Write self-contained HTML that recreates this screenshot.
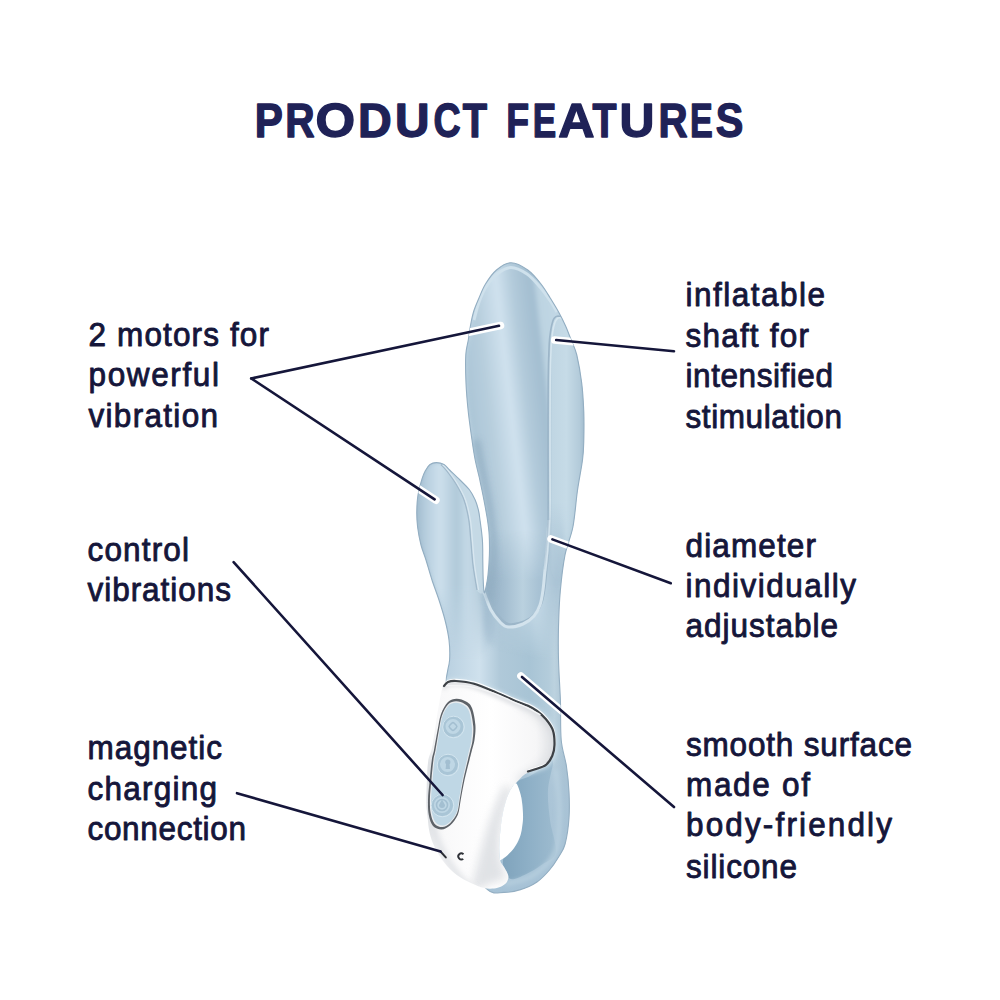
<!DOCTYPE html>
<html><head><meta charset="utf-8"><style>
html,body{margin:0;padding:0;background:#fff;width:1000px;height:1000px;overflow:hidden}
svg{display:block}
.t{font-family:"Liberation Sans",sans-serif;font-size:31.5px;fill:#15163a;stroke:#15163a;stroke-width:0.85px;stroke-linejoin:round}
.h{font-family:"Liberation Sans",sans-serif;font-size:48px;font-weight:bold;fill:#1f2257;stroke:#1f2257;stroke-width:1.4px;stroke-linejoin:round}
</style></head><body>
<svg width="1000" height="1000" viewBox="0 0 1000 1000">
<defs>
 <linearGradient id="gBase" x1="425" y1="0" x2="572" y2="0" gradientUnits="userSpaceOnUse">
  <stop offset="0" stop-color="#9fbacc"/>
  <stop offset="0.1" stop-color="#b5cdde"/>
  <stop offset="0.37" stop-color="#cfe1ed"/>
  <stop offset="0.51" stop-color="#b0c9d9"/>
  <stop offset="0.71" stop-color="#a8c4d5"/>
  <stop offset="0.84" stop-color="#b3ccdb"/>
  <stop offset="0.88" stop-color="#bcd2df"/>
  <stop offset="1" stop-color="#9fbacc"/>
 </linearGradient>
 <linearGradient id="gShaft" x1="465" y1="420" x2="585" y2="406" gradientUnits="userSpaceOnUse">
  <stop offset="0" stop-color="#98b4c8"/>
  <stop offset="0.058" stop-color="#acc6d7"/>
  <stop offset="0.21" stop-color="#b7cedd"/>
  <stop offset="0.39" stop-color="#d0e2ee"/>
  <stop offset="0.52" stop-color="#b3cbdb"/>
  <stop offset="0.625" stop-color="#a7c1d3"/>
  <stop offset="0.69" stop-color="#a3bed1"/>
  <stop offset="0.715" stop-color="#bcd3e1"/>
  <stop offset="0.875" stop-color="#c2d8e5"/>
  <stop offset="1" stop-color="#a5bfd1"/>
 </linearGradient>
 <linearGradient id="gArm" x1="416" y1="0" x2="484" y2="0" gradientUnits="userSpaceOnUse">
  <stop offset="0" stop-color="#9fbacc"/>
  <stop offset="0.12" stop-color="#b3cbdc"/>
  <stop offset="0.35" stop-color="#cde0ec"/>
  <stop offset="0.6" stop-color="#b0c9d9"/>
  <stop offset="0.75" stop-color="#c4d9e6"/>
  <stop offset="0.9" stop-color="#bad0de"/>
  <stop offset="1" stop-color="#a3bdd0"/>
 </linearGradient>
 <linearGradient id="gLobe" x1="548" y1="0" x2="585" y2="0" gradientUnits="userSpaceOnUse">
  <stop offset="0" stop-color="#a6bfd1"/>
  <stop offset="0.12" stop-color="#c0d6e3"/>
  <stop offset="0.5" stop-color="#c6dbe7"/>
  <stop offset="0.85" stop-color="#b3cbda"/>
  <stop offset="1" stop-color="#9fb9cc"/>
 </linearGradient>
 <linearGradient id="gFadeV" x1="0" y1="585" x2="0" y2="660" gradientUnits="userSpaceOnUse">
  <stop offset="0" stop-color="#fff"/><stop offset="1" stop-color="#000"/>
 </linearGradient>
 <linearGradient id="gLobeFade" x1="0" y1="500" x2="0" y2="585" gradientUnits="userSpaceOnUse">
  <stop offset="0" stop-color="#fff"/><stop offset="1" stop-color="#000"/>
 </linearGradient>
 <mask id="mLobe"><rect x="0" y="0" width="1000" height="1000" fill="url(#gLobeFade)"/></mask>
 <mask id="mFade"><rect x="0" y="0" width="1000" height="1000" fill="url(#gFadeV)"/></mask>
 <linearGradient id="gUin" x1="485" y1="0" x2="548" y2="0" gradientUnits="userSpaceOnUse">
  <stop offset="0" stop-color="#93afc3"/>
  <stop offset="0.3" stop-color="#a3bdd0"/>
  <stop offset="0.6" stop-color="#bad1df"/>
  <stop offset="0.85" stop-color="#a8c2d4"/>
  <stop offset="1" stop-color="#a3bed1"/>
 </linearGradient>
 <linearGradient id="gUfade" x1="0" y1="530" x2="0" y2="580" gradientUnits="userSpaceOnUse">
  <stop offset="0" stop-color="#000"/><stop offset="1" stop-color="#fff"/>
 </linearGradient>
 <mask id="mU"><rect x="0" y="0" width="1000" height="1000" fill="url(#gUfade)"/></mask>
 <linearGradient id="gLoopIn" x1="500" y1="0" x2="555" y2="0" gradientUnits="userSpaceOnUse">
  <stop offset="0" stop-color="#7ea2bb"/>
  <stop offset="0.5" stop-color="#8dafc6"/>
  <stop offset="1" stop-color="#9dbbcf"/>
 </linearGradient>
 <linearGradient id="gLoopOut" x1="0" y1="740" x2="0" y2="900" gradientUnits="userSpaceOnUse">
  <stop offset="0" stop-color="#a9c2d4" stop-opacity="0"/>
  <stop offset="0.3" stop-color="#a9c3d6" stop-opacity="0.8"/>
  <stop offset="1" stop-color="#a6c2d6"/>
 </linearGradient>
 <linearGradient id="gHandle" x1="428" y1="0" x2="555" y2="0" gradientUnits="userSpaceOnUse">
  <stop offset="0" stop-color="#e4e6e9"/>
  <stop offset="0.08" stop-color="#f8f8f9"/>
  <stop offset="0.5" stop-color="#ffffff"/>
  <stop offset="0.85" stop-color="#f6f6f7"/>
  <stop offset="1" stop-color="#e2e4e7"/>
 </linearGradient>
 <linearGradient id="gHandleLow" x1="0" y1="800" x2="0" y2="890" gradientUnits="userSpaceOnUse">
  <stop offset="0" stop-color="#e6e8ea" stop-opacity="0"/>
  <stop offset="1" stop-color="#dfe1e4" stop-opacity="0.9"/>
 </linearGradient>
 <filter id="blur4" x="-50%" y="-50%" width="200%" height="200%"><feGaussianBlur stdDeviation="4"/></filter>
 <filter id="blur3" x="-50%" y="-50%" width="200%" height="200%"><feGaussianBlur stdDeviation="3"/></filter>
 <filter id="blur1" x="-50%" y="-50%" width="200%" height="200%"><feGaussianBlur stdDeviation="0.6"/></filter>
 <filter id="blur2" x="-50%" y="-50%" width="200%" height="200%"><feGaussianBlur stdDeviation="2"/></filter>
 <clipPath id="cBlue"><path d="M511.0,262.7 C516.2,262.7 522.8,266.4 527.8,270.0 C532.8,273.6 537.3,279.3 541.0,284.0 C544.7,288.7 547.3,293.3 550.2,298.0 C553.1,302.7 556.0,307.3 558.6,312.0 C561.2,316.7 563.5,321.3 565.6,326.0 C567.7,330.7 569.3,335.2 571.2,340.0 C573.1,344.8 575.0,347.8 576.8,355.0 C578.5,362.2 580.5,373.5 581.7,383.0 C582.9,392.5 583.4,402.5 583.8,412.0 C584.1,421.5 584.0,432.0 583.8,440.0 C583.6,448.0 583.6,451.5 582.5,460.0 C581.4,468.5 579.0,479.8 577.4,491.0 C575.8,502.2 575.0,516.3 572.9,527.0 C570.8,537.7 567.1,544.3 565.0,555.0 C562.9,565.7 561.4,579.0 560.3,591.0 C559.2,603.0 558.8,615.5 558.5,627.0 C558.2,638.5 558.2,647.8 558.5,660.0 C558.8,672.2 559.9,686.7 560.4,700.0 C560.9,713.3 560.2,729.0 561.2,740.0 C562.2,751.0 565.1,757.3 566.4,766.0 C567.7,774.7 568.6,783.3 569.0,792.0 C569.4,800.7 569.6,809.3 569.0,818.0 C568.4,826.7 566.8,837.5 565.1,844.0 C563.4,850.5 561.2,852.7 558.6,857.0 C556.0,861.3 553.1,865.8 549.5,870.0 C545.9,874.2 541.8,878.7 537.0,882.0 C532.2,885.3 526.0,887.9 520.5,889.6 C515.0,891.3 509.5,892.4 504.0,892.4 C498.5,892.4 493.2,895.0 487.5,889.6 C481.8,884.2 475.4,881.6 470.0,860.0 C464.6,838.4 459.0,788.3 455.0,760.0 C451.0,731.7 446.9,706.7 446.0,690.0 C445.1,673.3 449.1,668.3 449.6,660.0 C450.1,651.7 449.8,646.7 449.0,640.0 C448.2,633.3 446.7,626.7 445.0,620.0 C443.3,613.3 441.2,606.7 439.0,600.0 C436.8,593.3 434.2,586.7 432.0,580.0 C429.8,573.3 427.8,565.8 426.0,560.0 C424.2,554.2 422.4,550.5 421.0,545.0 C419.6,539.5 418.3,532.7 417.6,527.0 C416.9,521.3 416.7,516.3 416.8,511.0 C416.9,505.7 417.1,500.3 418.0,495.0 C418.9,489.7 420.8,483.0 422.0,479.0 C423.2,475.0 423.9,473.4 425.2,471.0 C426.5,468.6 428.1,465.9 430.0,464.5 C431.9,463.1 434.1,462.6 436.4,462.6 C438.7,462.6 441.8,463.3 444.0,464.5 C446.2,465.7 446.9,467.4 449.6,470.0 C452.3,472.6 456.7,476.7 460.0,480.0 C463.3,483.3 467.1,486.7 469.6,490.0 C472.1,493.3 473.7,496.7 475.2,500.0 C476.7,503.3 477.6,506.7 478.4,510.0 C479.2,513.3 479.3,515.0 480.0,520.0 C480.7,525.0 481.9,533.3 482.4,540.0 C482.9,546.7 482.7,553.3 482.8,560.0 C482.9,566.7 483.0,574.6 483.2,580.0 C483.4,585.4 483.8,590.9 484.2,592.4 C484.6,593.9 485.0,591.9 485.6,589.0 C486.2,586.1 487.4,580.7 488.0,575.0 C488.6,569.3 489.2,561.7 489.4,555.0 C489.6,548.3 489.5,540.8 489.2,535.0 C488.9,529.2 488.3,525.3 487.5,520.0 C486.7,514.7 485.5,508.3 484.5,503.0 C483.5,497.7 482.4,492.3 481.5,488.0 C480.6,483.7 480.2,481.7 479.2,477.0 C478.1,472.3 476.4,466.2 475.2,460.0 C474.0,453.8 473.1,448.0 472.0,440.0 C470.9,432.0 469.3,421.5 468.3,412.0 C467.3,402.5 466.4,392.5 466.0,383.0 C465.6,373.5 465.4,362.2 465.8,355.0 C466.2,347.8 467.5,344.8 468.3,340.0 C469.1,335.2 469.5,330.7 470.4,326.0 C471.3,321.3 472.1,316.7 473.5,312.0 C474.9,307.3 477.0,302.7 479.0,298.0 C481.0,293.3 482.6,288.7 485.5,284.0 C488.4,279.3 492.2,273.6 496.5,270.0 C500.8,266.4 505.8,262.7 511.0,262.7Z"/></clipPath>
 <clipPath id="cHandle"><path d="M445.2,682.0 C447.9,678.8 451.2,680.7 456.0,681.0 C460.8,681.3 467.4,681.9 474.0,683.8 C480.6,685.7 489.0,689.5 495.6,692.3 C502.2,695.0 508.2,698.0 513.6,700.3 C519.0,702.5 524.1,704.0 528.0,705.8 C531.9,707.6 534.0,708.8 537.0,711.0 C540.0,713.2 543.3,716.0 546.0,719.3 C548.7,722.6 551.6,726.3 553.0,730.6 C554.4,734.9 554.6,740.8 554.5,745.0 C554.4,749.2 553.7,752.5 552.3,755.8 C550.9,759.1 548.9,762.5 546.0,764.8 C543.1,767.0 538.8,767.7 535.2,769.3 C531.6,770.9 527.6,772.2 524.4,774.5 C521.2,776.8 517.8,781.2 515.8,783.2 C513.8,785.2 514.0,784.1 512.5,786.5 C511.0,788.9 508.6,792.9 507.0,797.5 C505.4,802.1 503.7,808.5 502.6,814.0 C501.5,819.5 500.9,825.0 500.4,830.5 C499.8,836.0 499.4,842.1 499.3,847.0 C499.2,851.9 499.1,856.7 499.9,860.0 C500.7,863.3 502.8,864.8 504.0,867.0 C505.2,869.2 506.6,871.2 507.3,873.0 C508.0,874.8 508.6,875.8 508.4,877.5 C508.2,879.2 507.5,881.5 506.2,883.0 C504.9,884.5 502.7,885.9 500.7,886.8 C498.7,887.7 496.8,888.3 494.0,888.5 C491.2,888.7 487.8,888.9 484.0,888.0 C480.2,887.1 475.5,885.2 471.0,883.0 C466.5,880.8 461.3,878.4 456.8,875.0 C452.3,871.6 447.8,866.9 444.2,862.4 C440.6,857.9 437.6,852.8 435.2,848.0 C432.8,843.2 431.1,839.0 429.8,833.6 C428.5,828.2 428.1,821.2 427.5,815.6 C426.9,810.0 426.4,808.8 426.5,800.0 C426.6,791.2 427.0,772.2 428.0,763.0 C429.0,753.8 430.6,755.5 432.6,745.0 C434.6,734.5 437.7,710.5 439.8,700.0 C441.9,689.5 442.5,685.2 445.2,682.0Z"/></clipPath>
</defs>
<rect width="1000" height="1000" fill="#fff"/>
<text class="h" transform="translate(254.87,136.8) scale(0.878,1.0)">P</text><text class="h" transform="translate(285.16,136.8) scale(0.847,1.0)">R</text><text class="h" transform="translate(315.48,136.8) scale(1.061,1.0)">O</text><text class="h" transform="translate(357.88,136.8) scale(0.973,1.0)">D</text><text class="h" transform="translate(394.91,136.8) scale(0.997,1.0)">U</text><text class="h" transform="translate(433.43,136.8) scale(0.784,1.0)">C</text><text class="h" transform="translate(462.67,136.8) scale(0.829,1.0)">T</text><text class="h" transform="translate(506.16,136.8) scale(0.780,1.0)">F</text><text class="h" transform="translate(532.80,136.8) scale(0.733,1.0)">E</text><text class="h" transform="translate(558.15,136.8) scale(1.047,1.0)">A</text><text class="h" transform="translate(592.38,136.8) scale(0.818,1.0)">T</text><text class="h" transform="translate(619.58,136.8) scale(1.007,1.0)">U</text><text class="h" transform="translate(658.38,136.8) scale(0.840,1.0)">R</text><text class="h" transform="translate(690.07,136.8) scale(0.711,1.0)">E</text><text class="h" transform="translate(715.78,136.8) scale(0.861,1.0)">S</text>
<g class="t">
<text transform="translate(88.5,346) scale(1,1.05)" textLength="180.5" lengthAdjust="spacing">2 motors for</text>
<text transform="translate(88.5,386) scale(1,1.05)" textLength="130.5" lengthAdjust="spacing">powerful</text>
<text transform="translate(88.5,427) scale(1,1.05)" textLength="129.5" lengthAdjust="spacing">vibration</text>
<text transform="translate(87.5,561) scale(1,1.05)" textLength="101.5" lengthAdjust="spacing">control</text>
<text transform="translate(87.5,601) scale(1,1.05)" textLength="143.5" lengthAdjust="spacing">vibrations</text>
<text transform="translate(87.5,759) scale(1,1.05)" textLength="134.5" lengthAdjust="spacing">magnetic</text>
<text transform="translate(87.5,800) scale(1,1.05)" textLength="129.5" lengthAdjust="spacing">charging</text>
<text transform="translate(87.5,840) scale(1,1.05)" textLength="158.5" lengthAdjust="spacing">connection</text>
<text transform="translate(685.5,306) scale(1,1.05)" textLength="139.5" lengthAdjust="spacing">inflatable</text>
<text transform="translate(685.5,347) scale(1,1.05)" textLength="123.5" lengthAdjust="spacing">shaft for</text>
<text transform="translate(685.5,387) scale(1,1.05)" textLength="147.5" lengthAdjust="spacing">intensified</text>
<text transform="translate(685.5,428) scale(1,1.05)" textLength="156.5" lengthAdjust="spacing">stimulation</text>
<text transform="translate(685.5,557) scale(1,1.05)" textLength="130.5" lengthAdjust="spacing">diameter</text>
<text transform="translate(685.5,597) scale(1,1.05)" textLength="170.5" lengthAdjust="spacing">individually</text>
<text transform="translate(685.5,637) scale(1,1.05)" textLength="152.5" lengthAdjust="spacing">adjustable</text>
<text transform="translate(686.0,756) scale(1,1.05)" textLength="226.0" lengthAdjust="spacing">smooth surface</text>
<text transform="translate(686.0,796) scale(1,1.05)" textLength="124.0" lengthAdjust="spacing">made of</text>
<text transform="translate(686.0,836) scale(1,1.05)" textLength="206.0" lengthAdjust="spacing">body-friendly</text>
<text transform="translate(686.0,877.5) scale(1,1.05)" textLength="111.0" lengthAdjust="spacing">silicone</text>

</g>
<!-- product -->
<path d="M511.0,262.7 C516.2,262.7 522.8,266.4 527.8,270.0 C532.8,273.6 537.3,279.3 541.0,284.0 C544.7,288.7 547.3,293.3 550.2,298.0 C553.1,302.7 556.0,307.3 558.6,312.0 C561.2,316.7 563.5,321.3 565.6,326.0 C567.7,330.7 569.3,335.2 571.2,340.0 C573.1,344.8 575.0,347.8 576.8,355.0 C578.5,362.2 580.5,373.5 581.7,383.0 C582.9,392.5 583.4,402.5 583.8,412.0 C584.1,421.5 584.0,432.0 583.8,440.0 C583.6,448.0 583.6,451.5 582.5,460.0 C581.4,468.5 579.0,479.8 577.4,491.0 C575.8,502.2 575.0,516.3 572.9,527.0 C570.8,537.7 567.1,544.3 565.0,555.0 C562.9,565.7 561.4,579.0 560.3,591.0 C559.2,603.0 558.8,615.5 558.5,627.0 C558.2,638.5 558.2,647.8 558.5,660.0 C558.8,672.2 559.9,686.7 560.4,700.0 C560.9,713.3 560.2,729.0 561.2,740.0 C562.2,751.0 565.1,757.3 566.4,766.0 C567.7,774.7 568.6,783.3 569.0,792.0 C569.4,800.7 569.6,809.3 569.0,818.0 C568.4,826.7 566.8,837.5 565.1,844.0 C563.4,850.5 561.2,852.7 558.6,857.0 C556.0,861.3 553.1,865.8 549.5,870.0 C545.9,874.2 541.8,878.7 537.0,882.0 C532.2,885.3 526.0,887.9 520.5,889.6 C515.0,891.3 509.5,892.4 504.0,892.4 C498.5,892.4 493.2,895.0 487.5,889.6 C481.8,884.2 475.4,881.6 470.0,860.0 C464.6,838.4 459.0,788.3 455.0,760.0 C451.0,731.7 446.9,706.7 446.0,690.0 C445.1,673.3 449.1,668.3 449.6,660.0 C450.1,651.7 449.8,646.7 449.0,640.0 C448.2,633.3 446.7,626.7 445.0,620.0 C443.3,613.3 441.2,606.7 439.0,600.0 C436.8,593.3 434.2,586.7 432.0,580.0 C429.8,573.3 427.8,565.8 426.0,560.0 C424.2,554.2 422.4,550.5 421.0,545.0 C419.6,539.5 418.3,532.7 417.6,527.0 C416.9,521.3 416.7,516.3 416.8,511.0 C416.9,505.7 417.1,500.3 418.0,495.0 C418.9,489.7 420.8,483.0 422.0,479.0 C423.2,475.0 423.9,473.4 425.2,471.0 C426.5,468.6 428.1,465.9 430.0,464.5 C431.9,463.1 434.1,462.6 436.4,462.6 C438.7,462.6 441.8,463.3 444.0,464.5 C446.2,465.7 446.9,467.4 449.6,470.0 C452.3,472.6 456.7,476.7 460.0,480.0 C463.3,483.3 467.1,486.7 469.6,490.0 C472.1,493.3 473.7,496.7 475.2,500.0 C476.7,503.3 477.6,506.7 478.4,510.0 C479.2,513.3 479.3,515.0 480.0,520.0 C480.7,525.0 481.9,533.3 482.4,540.0 C482.9,546.7 482.7,553.3 482.8,560.0 C482.9,566.7 483.0,574.6 483.2,580.0 C483.4,585.4 483.8,590.9 484.2,592.4 C484.6,593.9 485.0,591.9 485.6,589.0 C486.2,586.1 487.4,580.7 488.0,575.0 C488.6,569.3 489.2,561.7 489.4,555.0 C489.6,548.3 489.5,540.8 489.2,535.0 C488.9,529.2 488.3,525.3 487.5,520.0 C486.7,514.7 485.5,508.3 484.5,503.0 C483.5,497.7 482.4,492.3 481.5,488.0 C480.6,483.7 480.2,481.7 479.2,477.0 C478.1,472.3 476.4,466.2 475.2,460.0 C474.0,453.8 473.1,448.0 472.0,440.0 C470.9,432.0 469.3,421.5 468.3,412.0 C467.3,402.5 466.4,392.5 466.0,383.0 C465.6,373.5 465.4,362.2 465.8,355.0 C466.2,347.8 467.5,344.8 468.3,340.0 C469.1,335.2 469.5,330.7 470.4,326.0 C471.3,321.3 472.1,316.7 473.5,312.0 C474.9,307.3 477.0,302.7 479.0,298.0 C481.0,293.3 482.6,288.7 485.5,284.0 C488.4,279.3 492.2,273.6 496.5,270.0 C500.8,266.4 505.8,262.7 511.0,262.7Z" fill="url(#gBase)"/>
<g clip-path="url(#cBlue)">
 <rect x="400" y="735" width="200" height="170" fill="url(#gLoopOut)"/>
 <g mask="url(#mFade)"><path d="M511.0,262.7 C516.2,262.7 522.8,266.4 527.8,270.0 C532.8,273.6 537.3,279.3 541.0,284.0 C544.7,288.7 547.3,293.3 550.2,298.0 C553.1,302.7 556.0,307.3 558.6,312.0 C561.2,316.7 563.5,321.3 565.6,326.0 C567.7,330.7 569.3,335.2 571.2,340.0 C573.1,344.8 575.0,347.8 576.8,355.0 C578.5,362.2 580.5,373.5 581.7,383.0 C582.9,392.5 583.4,402.5 583.8,412.0 C584.1,421.5 584.0,432.0 583.8,440.0 C583.6,448.0 583.6,451.5 582.5,460.0 C581.4,468.5 579.0,479.8 577.4,491.0 C575.8,502.2 575.0,516.3 572.9,527.0 C570.8,537.7 567.1,544.3 565.0,555.0 C562.9,565.7 561.4,579.0 560.3,591.0 C559.2,603.0 558.8,615.5 558.5,627.0 C558.2,638.5 560.8,654.5 558.5,660.0 C556.2,665.5 553.1,661.7 545.0,660.0 C536.9,658.3 519.8,653.3 510.0,650.0 C500.2,646.7 490.1,650.2 486.0,640.0 C481.9,629.8 485.3,599.8 485.6,589.0 C485.9,578.2 487.4,580.7 488.0,575.0 C488.6,569.3 489.2,561.7 489.4,555.0 C489.6,548.3 489.5,540.8 489.2,535.0 C488.9,529.2 488.3,525.3 487.5,520.0 C486.7,514.7 485.5,508.3 484.5,503.0 C483.5,497.7 482.4,492.3 481.5,488.0 C480.6,483.7 480.2,481.7 479.2,477.0 C478.1,472.3 476.4,466.2 475.2,460.0 C474.0,453.8 473.1,448.0 472.0,440.0 C470.9,432.0 469.3,421.5 468.3,412.0 C467.3,402.5 466.4,392.5 466.0,383.0 C465.6,373.5 465.4,362.2 465.8,355.0 C466.2,347.8 467.5,344.8 468.3,340.0 C469.1,335.2 469.5,330.7 470.4,326.0 C471.3,321.3 472.1,316.7 473.5,312.0 C474.9,307.3 477.0,302.7 479.0,298.0 C481.0,293.3 482.6,288.7 485.5,284.0 C488.4,279.3 492.2,273.6 496.5,270.0 C500.8,266.4 505.8,262.7 511.0,262.7Z" fill="url(#gShaft)" filter="url(#blur2)"/></g>
 <g mask="url(#mFade)"><path d="M447.0,670.0 C443.5,664.2 449.3,648.3 449.0,640.0 C448.7,631.7 446.7,626.7 445.0,620.0 C443.3,613.3 441.2,606.7 439.0,600.0 C436.8,593.3 434.2,586.7 432.0,580.0 C429.8,573.3 427.8,565.8 426.0,560.0 C424.2,554.2 422.4,550.5 421.0,545.0 C419.6,539.5 418.3,532.7 417.6,527.0 C416.9,521.3 416.7,516.3 416.8,511.0 C416.9,505.7 417.1,500.3 418.0,495.0 C418.9,489.7 420.8,483.0 422.0,479.0 C423.2,475.0 423.9,473.4 425.2,471.0 C426.5,468.6 428.1,465.9 430.0,464.5 C431.9,463.1 434.1,462.6 436.4,462.6 C438.7,462.6 441.8,463.3 444.0,464.5 C446.2,465.7 446.9,467.4 449.6,470.0 C452.3,472.6 456.7,476.7 460.0,480.0 C463.3,483.3 467.1,486.7 469.6,490.0 C472.1,493.3 473.7,496.7 475.2,500.0 C476.7,503.3 477.6,506.7 478.4,510.0 C479.2,513.3 479.3,515.0 480.0,520.0 C480.7,525.0 481.9,533.3 482.4,540.0 C482.9,546.7 482.7,553.3 482.8,560.0 C482.9,566.7 483.0,574.6 483.2,580.0 C483.4,585.4 482.2,584.1 484.2,592.4 C486.2,600.7 497.4,616.2 495.0,630.0 C492.6,643.8 478.0,668.3 470.0,675.0 C462.0,681.7 450.5,675.8 447.0,670.0Z" fill="url(#gArm)" filter="url(#blur2)"/></g>
 <path d="M474.0,320.0 C474.8,317.0 477.0,307.5 479.0,302.0 C481.0,296.5 483.0,291.7 486.0,287.0 C489.0,282.3 492.8,277.2 497.0,274.0 C501.2,270.8 506.0,267.5 511.0,267.5 C516.0,267.5 522.2,270.8 527.0,274.0 C531.8,277.2 536.0,282.3 540.0,287.0 C544.0,291.7 548.2,297.8 551.0,302.0 C553.8,306.2 556.0,310.3 557.0,312.0" stroke="#cfe1ec" stroke-width="3" fill="none" filter="url(#blur1)"/>
 <path d="M484.2,592.4 C483.4,589.1 485.3,593.7 486.0,590.0 C486.7,586.3 488.0,575.8 488.6,570.0 C489.2,564.2 489.3,560.0 489.4,555.0 C489.5,550.0 485.6,545.8 489.0,540.0 C492.4,534.2 500.3,521.7 510.0,520.0 C519.7,518.3 540.8,525.0 547.0,530.0 C553.2,535.0 547.3,543.3 547.0,550.0 C546.7,556.7 545.7,563.3 545.0,570.0 C544.3,576.7 543.8,584.2 543.0,590.0 C542.2,595.8 541.5,600.7 540.0,605.0 C538.5,609.3 536.8,612.8 534.0,616.0 C531.2,619.2 527.3,622.2 523.0,624.0 C518.7,625.8 511.8,627.3 508.0,627.0 C504.2,626.7 502.8,624.8 500.0,622.0 C497.2,619.2 493.6,614.9 491.0,610.0 C488.4,605.1 485.0,595.7 484.2,592.4Z" fill="url(#gUin)" mask="url(#mU)"/>
 <path d="M484.0,592.0 C485.2,595.0 488.3,605.0 491.0,610.0 C493.7,615.0 497.2,619.2 500.0,622.0 C502.8,624.8 504.2,626.7 508.0,627.0 C511.8,627.3 518.7,625.8 523.0,624.0 C527.3,622.2 531.2,619.2 534.0,616.0 C536.8,612.8 538.5,609.3 540.0,605.0 C541.5,600.7 542.2,595.8 543.0,590.0 C543.8,584.2 544.3,576.7 545.0,570.0 C545.7,563.3 546.4,558.3 547.0,550.0 C547.6,541.7 548.5,525.0 548.8,520.0" stroke="#9cb6c9" stroke-width="2.5" fill="none" transform="translate(1.5,-2.5)" filter="url(#blur1)"/>
 <path d="M484.0,592.0 C485.2,595.0 488.3,605.0 491.0,610.0 C493.7,615.0 497.2,619.2 500.0,622.0 C502.8,624.8 504.2,626.7 508.0,627.0 C511.8,627.3 518.7,625.8 523.0,624.0 C527.3,622.2 531.2,619.2 534.0,616.0 C536.8,612.8 538.5,609.3 540.0,605.0 C541.5,600.7 542.2,595.8 543.0,590.0 C543.8,584.2 544.3,576.7 545.0,570.0 C545.7,563.3 546.4,558.3 547.0,550.0 C547.6,541.7 548.5,525.0 548.8,520.0" stroke="#d3e3ed" stroke-width="3" fill="none" filter="url(#blur1)"/>
 <g mask="url(#mLobe)"><path d="M558.0,316.8 C559.0,316.7 560.4,316.9 561.5,317.5 C562.6,318.1 563.5,318.9 564.5,320.5 C565.5,322.1 566.4,323.8 567.5,327.0 C568.6,330.2 569.7,335.3 571.2,340.0 C572.8,344.7 575.0,347.8 576.8,355.0 C578.5,362.2 580.5,373.5 581.7,383.0 C582.9,392.5 583.4,402.5 583.8,412.0 C584.1,421.5 584.0,432.0 583.8,440.0 C583.6,448.0 583.6,451.5 582.5,460.0 C581.4,468.5 579.0,479.8 577.4,491.0 C575.8,502.2 575.0,516.3 572.9,527.0 C570.8,537.7 567.5,546.2 565.0,555.0 C562.5,563.8 560.5,578.3 558.0,580.0 C555.5,581.7 551.5,575.0 550.0,565.0 C548.5,555.0 549.0,539.2 548.8,520.0 C548.6,500.8 548.8,473.3 548.8,450.0 C548.8,426.7 548.8,397.5 549.0,380.0 C549.2,362.5 549.6,353.2 550.0,345.0 C550.4,336.8 550.9,334.8 551.5,331.0 C552.1,327.2 552.8,324.1 553.5,322.0 C554.2,319.9 554.8,319.2 555.5,318.3 C556.2,317.4 557.0,316.9 558.0,316.8Z" fill="url(#gLobe)"/>
 <path d="M564.5,320.5 C564.0,320.0 562.6,318.1 561.5,317.5 C560.4,316.9 559.0,316.7 558.0,316.8 C557.0,316.9 556.2,317.4 555.5,318.3 C554.8,319.2 554.2,319.9 553.5,322.0 C552.8,324.1 552.1,327.2 551.5,331.0 C550.9,334.8 550.4,336.8 550.0,345.0 C549.6,353.2 549.2,362.5 549.0,380.0 C548.8,397.5 548.8,426.7 548.8,450.0 C548.8,473.3 549.1,503.3 548.8,520.0 C548.5,536.7 547.6,541.7 547.0,550.0 C546.4,558.3 545.3,566.7 545.0,570.0" stroke="#9cb5c8" stroke-width="1.6" fill="none" transform="translate(-0.8,-0.6)" filter="url(#blur1)"/>
 <path d="M564.5,320.5 C564.0,320.0 562.6,318.1 561.5,317.5 C560.4,316.9 559.0,316.7 558.0,316.8 C557.0,316.9 556.2,317.4 555.5,318.3 C554.8,319.2 554.2,319.9 553.5,322.0 C552.8,324.1 552.1,327.2 551.5,331.0 C550.9,334.8 550.4,336.8 550.0,345.0 C549.6,353.2 549.2,362.5 549.0,380.0 C548.8,397.5 548.8,426.7 548.8,450.0 C548.8,473.3 549.1,503.3 548.8,520.0 C548.5,536.7 547.6,541.7 547.0,550.0 C546.4,558.3 545.3,566.7 545.0,570.0" stroke="#d6e6ef" stroke-width="1.6" fill="none" transform="translate(1.2,1)" filter="url(#blur1)"/></g>
 <path d="M441.0,464.5 C441.4,465.5 443.9,467.1 446.4,470.4 C448.9,473.6 453.1,479.1 456.0,484.0 C458.9,488.9 461.9,494.0 464.0,500.0 C466.1,506.0 467.7,513.3 468.8,520.0 C469.9,526.7 470.1,532.5 470.8,540.0 C471.5,547.5 472.0,556.7 473.0,565.0 C474.0,573.3 475.1,585.4 477.0,590.0 C478.9,594.6 483.2,594.1 484.2,592.4 C485.2,590.7 483.4,585.4 483.2,580.0 C483.0,574.6 482.9,566.7 482.8,560.0 C482.7,553.3 482.9,546.7 482.4,540.0 C481.9,533.3 480.7,525.0 480.0,520.0 C479.3,515.0 479.2,513.3 478.4,510.0 C477.6,506.7 476.7,503.3 475.2,500.0 C473.7,496.7 472.1,493.3 469.6,490.0 C467.1,486.7 463.3,483.3 460.0,480.0 C456.7,476.7 452.3,472.6 449.6,470.0 C446.9,467.4 445.4,465.4 444.0,464.5 C442.6,463.6 440.6,463.5 441.0,464.5Z" fill="#c7dae6" opacity="0.85"/>
 <path d="M441.0,464.5 C441.9,465.5 443.9,467.1 446.4,470.4 C448.9,473.6 453.1,479.1 456.0,484.0 C458.9,488.9 461.9,494.0 464.0,500.0 C466.1,506.0 467.7,513.3 468.8,520.0 C469.9,526.7 470.1,532.5 470.8,540.0 C471.5,547.5 472.0,556.7 473.0,565.0 C474.0,573.3 476.3,585.8 477.0,590.0" stroke="#a1b9cb" stroke-width="1.3" fill="none"/>
 <path d="M441.0,464.5 C441.9,465.5 443.9,467.1 446.4,470.4 C448.9,473.6 453.1,479.1 456.0,484.0 C458.9,488.9 461.9,494.0 464.0,500.0 C466.1,506.0 467.7,513.3 468.8,520.0 C469.9,526.7 470.1,532.5 470.8,540.0 C471.5,547.5 472.0,556.7 473.0,565.0 C474.0,573.3 476.3,585.8 477.0,590.0" stroke="#d9e7f0" stroke-width="1.2" fill="none" transform="translate(1.6,0)"/>
 <path d="M484.0,600.0 C484.3,598.3 485.2,595.0 486.0,590.0 C486.8,585.0 488.0,575.8 488.6,570.0 C489.2,564.2 489.3,560.0 489.4,555.0 C489.5,550.0 489.4,545.8 489.0,540.0 C488.6,534.2 487.8,526.7 487.0,520.0 C486.2,513.3 485.2,506.7 484.0,500.0 C482.8,493.3 481.3,486.7 480.0,480.0 C478.7,473.3 477.3,466.7 476.0,460.0 C474.7,453.3 472.7,443.3 472.0,440.0" stroke="#93aec2" stroke-width="7" fill="none" filter="url(#blur3)" transform="translate(4,0)" opacity="0.8"/>
 <path d="M515.8,783.2 C517.2,779.6 525.0,778.9 530.0,776.0 C535.0,773.1 542.2,768.3 546.0,766.0 C549.8,763.7 552.7,758.0 553.0,762.0 C553.3,766.0 548.5,780.3 548.0,790.0 C547.5,799.7 548.7,809.6 550.0,820.0 C551.3,830.4 557.0,844.8 555.7,852.2 C554.5,859.6 547.5,860.6 542.5,864.3 C537.5,868.0 531.5,871.8 526.0,874.2 C520.5,876.6 513.3,881.0 509.5,878.6 C505.7,876.2 502.1,865.3 503.0,860.0 C503.9,854.7 511.8,851.0 514.7,847.0 C517.6,843.0 518.8,841.5 520.2,836.0 C521.6,830.5 522.8,820.4 523.0,814.0 C523.2,807.6 522.5,802.6 521.3,797.5 C520.1,792.4 514.3,786.8 515.8,783.2Z" fill="url(#gLoopIn)" filter="url(#blur1)"/>
 <path d="M556.0,770.0 C556.5,775.0 558.5,790.8 559.0,800.0 C559.5,809.2 559.5,816.7 559.0,825.0 C558.5,833.3 558.3,843.2 556.0,850.0 C553.7,856.8 549.7,861.3 545.0,866.0 C540.3,870.7 534.7,875.0 528.0,878.0 C521.3,881.0 508.8,883.0 505.0,884.0" stroke="#bcd3e1" stroke-width="3" fill="none" filter="url(#blur2)"/>
</g>
<path d="M511.0,262.7 C516.2,262.7 522.8,266.4 527.8,270.0 C532.8,273.6 537.3,279.3 541.0,284.0 C544.7,288.7 547.3,293.3 550.2,298.0 C553.1,302.7 556.0,307.3 558.6,312.0 C561.2,316.7 563.5,321.3 565.6,326.0 C567.7,330.7 569.3,335.2 571.2,340.0 C573.1,344.8 575.0,347.8 576.8,355.0 C578.5,362.2 580.5,373.5 581.7,383.0 C582.9,392.5 583.4,402.5 583.8,412.0 C584.1,421.5 584.0,432.0 583.8,440.0 C583.6,448.0 583.6,451.5 582.5,460.0 C581.4,468.5 579.0,479.8 577.4,491.0 C575.8,502.2 575.0,516.3 572.9,527.0 C570.8,537.7 567.1,544.3 565.0,555.0 C562.9,565.7 561.4,579.0 560.3,591.0 C559.2,603.0 558.8,615.5 558.5,627.0 C558.2,638.5 558.2,647.8 558.5,660.0 C558.8,672.2 559.9,686.7 560.4,700.0 C560.9,713.3 560.2,729.0 561.2,740.0 C562.2,751.0 565.1,757.3 566.4,766.0 C567.7,774.7 568.6,783.3 569.0,792.0 C569.4,800.7 569.6,809.3 569.0,818.0 C568.4,826.7 566.8,837.5 565.1,844.0 C563.4,850.5 561.2,852.7 558.6,857.0 C556.0,861.3 553.1,865.8 549.5,870.0 C545.9,874.2 541.8,878.7 537.0,882.0 C532.2,885.3 526.0,887.9 520.5,889.6 C515.0,891.3 509.5,892.4 504.0,892.4 C498.5,892.4 493.2,895.0 487.5,889.6 C481.8,884.2 475.4,881.6 470.0,860.0 C464.6,838.4 459.0,788.3 455.0,760.0 C451.0,731.7 446.9,706.7 446.0,690.0 C445.1,673.3 449.1,668.3 449.6,660.0 C450.1,651.7 449.8,646.7 449.0,640.0 C448.2,633.3 446.7,626.7 445.0,620.0 C443.3,613.3 441.2,606.7 439.0,600.0 C436.8,593.3 434.2,586.7 432.0,580.0 C429.8,573.3 427.8,565.8 426.0,560.0 C424.2,554.2 422.4,550.5 421.0,545.0 C419.6,539.5 418.3,532.7 417.6,527.0 C416.9,521.3 416.7,516.3 416.8,511.0 C416.9,505.7 417.1,500.3 418.0,495.0 C418.9,489.7 420.8,483.0 422.0,479.0 C423.2,475.0 423.9,473.4 425.2,471.0 C426.5,468.6 428.1,465.9 430.0,464.5 C431.9,463.1 434.1,462.6 436.4,462.6 C438.7,462.6 441.8,463.3 444.0,464.5 C446.2,465.7 446.9,467.4 449.6,470.0 C452.3,472.6 456.7,476.7 460.0,480.0 C463.3,483.3 467.1,486.7 469.6,490.0 C472.1,493.3 473.7,496.7 475.2,500.0 C476.7,503.3 477.6,506.7 478.4,510.0 C479.2,513.3 479.3,515.0 480.0,520.0 C480.7,525.0 481.9,533.3 482.4,540.0 C482.9,546.7 482.7,553.3 482.8,560.0 C482.9,566.7 483.0,574.6 483.2,580.0 C483.4,585.4 483.8,590.9 484.2,592.4 C484.6,593.9 485.0,591.9 485.6,589.0 C486.2,586.1 487.4,580.7 488.0,575.0 C488.6,569.3 489.2,561.7 489.4,555.0 C489.6,548.3 489.5,540.8 489.2,535.0 C488.9,529.2 488.3,525.3 487.5,520.0 C486.7,514.7 485.5,508.3 484.5,503.0 C483.5,497.7 482.4,492.3 481.5,488.0 C480.6,483.7 480.2,481.7 479.2,477.0 C478.1,472.3 476.4,466.2 475.2,460.0 C474.0,453.8 473.1,448.0 472.0,440.0 C470.9,432.0 469.3,421.5 468.3,412.0 C467.3,402.5 466.4,392.5 466.0,383.0 C465.6,373.5 465.4,362.2 465.8,355.0 C466.2,347.8 467.5,344.8 468.3,340.0 C469.1,335.2 469.5,330.7 470.4,326.0 C471.3,321.3 472.1,316.7 473.5,312.0 C474.9,307.3 477.0,302.7 479.0,298.0 C481.0,293.3 482.6,288.7 485.5,284.0 C488.4,279.3 492.2,273.6 496.5,270.0 C500.8,266.4 505.8,262.7 511.0,262.7Z" fill="none" stroke="#93aec2" stroke-width="1.1"/>
<g clip-path="url(#cBlue)"><path d="M444.0,686.0 C444.7,685.3 446.0,682.8 448.0,682.0 C450.0,681.2 451.7,680.7 456.0,681.0 C460.3,681.3 467.4,681.9 474.0,683.8 C480.6,685.7 489.0,689.5 495.6,692.3 C502.2,695.0 508.2,698.0 513.6,700.3 C519.0,702.5 524.1,704.0 528.0,705.8 C531.9,707.6 534.0,708.8 537.0,711.0 C540.0,713.2 543.3,716.0 546.0,719.3 C548.7,722.6 551.6,726.3 553.0,730.6 C554.4,734.9 554.6,740.8 554.5,745.0 C554.4,749.2 553.7,752.5 552.3,755.8 C550.9,759.1 548.9,762.5 546.0,764.8 C543.1,767.0 538.2,768.2 535.2,769.3 C532.2,770.4 529.2,771.1 528.0,771.5" stroke="#d2e3ed" stroke-width="5" fill="none" filter="url(#blur2)"/></g>
<path d="M445.2,682.0 C447.9,678.8 451.2,680.7 456.0,681.0 C460.8,681.3 467.4,681.9 474.0,683.8 C480.6,685.7 489.0,689.5 495.6,692.3 C502.2,695.0 508.2,698.0 513.6,700.3 C519.0,702.5 524.1,704.0 528.0,705.8 C531.9,707.6 534.0,708.8 537.0,711.0 C540.0,713.2 543.3,716.0 546.0,719.3 C548.7,722.6 551.6,726.3 553.0,730.6 C554.4,734.9 554.6,740.8 554.5,745.0 C554.4,749.2 553.7,752.5 552.3,755.8 C550.9,759.1 548.9,762.5 546.0,764.8 C543.1,767.0 538.8,767.7 535.2,769.3 C531.6,770.9 527.6,772.2 524.4,774.5 C521.2,776.8 517.8,781.2 515.8,783.2 C513.8,785.2 514.0,784.1 512.5,786.5 C511.0,788.9 508.6,792.9 507.0,797.5 C505.4,802.1 503.7,808.5 502.6,814.0 C501.5,819.5 500.9,825.0 500.4,830.5 C499.8,836.0 499.4,842.1 499.3,847.0 C499.2,851.9 499.1,856.7 499.9,860.0 C500.7,863.3 502.8,864.8 504.0,867.0 C505.2,869.2 506.6,871.2 507.3,873.0 C508.0,874.8 508.6,875.8 508.4,877.5 C508.2,879.2 507.5,881.5 506.2,883.0 C504.9,884.5 502.7,885.9 500.7,886.8 C498.7,887.7 496.8,888.3 494.0,888.5 C491.2,888.7 487.8,888.9 484.0,888.0 C480.2,887.1 475.5,885.2 471.0,883.0 C466.5,880.8 461.3,878.4 456.8,875.0 C452.3,871.6 447.8,866.9 444.2,862.4 C440.6,857.9 437.6,852.8 435.2,848.0 C432.8,843.2 431.1,839.0 429.8,833.6 C428.5,828.2 428.1,821.2 427.5,815.6 C426.9,810.0 426.4,808.8 426.5,800.0 C426.6,791.2 427.0,772.2 428.0,763.0 C429.0,753.8 430.6,755.5 432.6,745.0 C434.6,734.5 437.7,710.5 439.8,700.0 C441.9,689.5 442.5,685.2 445.2,682.0Z" fill="url(#gHandle)"/>
<g clip-path="url(#cHandle)">
 <path d="M512,790 C500,820 494,850 506,878 L470,892 C480,860 485,820 505,785Z" fill="#d9dce0" filter="url(#blur4)" opacity="0.8"/>
 <path d="M430,760 C425,800 428,850 470,888" stroke="#dadde1" stroke-width="5" fill="none" filter="url(#blur3)"/>
 <path d="M518,782 C535,772 550,765 553,745 C552,725 540,712 520,703" stroke="#e2e4e7" stroke-width="9" fill="none" filter="url(#blur4)"/>
 <path d="M444.0,686.0 C444.7,685.3 446.0,682.8 448.0,682.0 C450.0,681.2 451.7,680.7 456.0,681.0 C460.3,681.3 467.4,681.9 474.0,683.8 C480.6,685.7 489.0,689.5 495.6,692.3 C502.2,695.0 508.2,698.0 513.6,700.3 C519.0,702.5 524.1,704.0 528.0,705.8 C531.9,707.6 534.0,708.8 537.0,711.0 C540.0,713.2 543.3,716.0 546.0,719.3 C548.7,722.6 551.6,726.3 553.0,730.6 C554.4,734.9 554.6,740.8 554.5,745.0 C554.4,749.2 553.7,752.5 552.3,755.8 C550.9,759.1 548.9,762.5 546.0,764.8 C543.1,767.0 538.2,768.2 535.2,769.3 C532.2,770.4 529.2,771.1 528.0,771.5" stroke="#d9dbdf" stroke-width="4" fill="none" transform="translate(-0.5,2.5)" filter="url(#blur2)"/>
</g>
<path d="M515.8,783.2 C516.7,783.2 517.1,784.1 518.0,786.5 C518.9,788.9 520.5,792.9 521.3,797.5 C522.1,802.1 522.8,809.4 523.0,814.0 C523.2,818.6 522.9,821.3 522.4,825.0 C521.9,828.7 521.5,832.3 520.2,836.0 C518.9,839.7 516.9,843.7 514.7,847.0 C512.5,850.3 509.4,853.6 507.0,855.8 C504.6,858.0 501.6,859.3 500.4,860.2 C499.2,861.1 500.1,863.2 499.9,861.0 C499.7,858.8 499.2,852.1 499.3,847.0 C499.4,841.9 499.8,836.0 500.4,830.5 C500.9,825.0 501.5,819.5 502.6,814.0 C503.7,808.5 505.4,802.1 507.0,797.5 C508.6,792.9 511.0,788.9 512.5,786.5 C514.0,784.1 514.9,783.2 515.8,783.2Z" fill="#fff"/>
<path d="M444.0,686.0 C444.7,685.3 446.0,682.8 448.0,682.0 C450.0,681.2 451.7,680.7 456.0,681.0 C460.3,681.3 467.4,681.9 474.0,683.8 C480.6,685.7 489.0,689.5 495.6,692.3 C502.2,695.0 508.2,698.0 513.6,700.3 C519.0,702.5 524.1,704.0 528.0,705.8 C531.9,707.6 534.0,708.8 537.0,711.0 C540.0,713.2 543.3,716.0 546.0,719.3 C548.7,722.6 551.6,726.3 553.0,730.6 C554.4,734.9 554.6,740.8 554.5,745.0 C554.4,749.2 553.7,752.5 552.3,755.8 C550.9,759.1 548.9,762.5 546.0,764.8 C543.1,767.0 538.2,768.2 535.2,769.3 C532.2,770.4 529.2,771.1 528.0,771.5" stroke="#ffffff" stroke-width="1.4" fill="none" transform="translate(0.6,-1.6)" opacity="0.9"/>
<path d="M444.0,686.0 C444.7,685.3 446.0,682.8 448.0,682.0 C450.0,681.2 451.7,680.7 456.0,681.0 C460.3,681.3 467.4,681.9 474.0,683.8 C480.6,685.7 489.0,689.5 495.6,692.3 C502.2,695.0 508.2,698.0 513.6,700.3 C519.0,702.5 524.1,704.0 528.0,705.8 C531.9,707.6 534.0,708.8 537.0,711.0 C540.0,713.2 543.3,716.0 546.0,719.3 C548.7,722.6 551.6,726.3 553.0,730.6 C554.4,734.9 554.6,740.8 554.5,745.0 C554.4,749.2 553.7,752.5 552.3,755.8 C550.9,759.1 548.9,762.5 546.0,764.8 C543.1,767.0 538.2,768.2 535.2,769.3 C532.2,770.4 529.2,771.1 528.0,771.5" stroke="#3d4146" stroke-width="2.2" fill="none" stroke-linecap="round"/>
<path d="M447.0,685.0 C450.8,685.2 462.0,684.7 470.0,686.0 C478.0,687.3 487.8,690.5 495.0,693.0 C502.2,695.5 507.7,698.7 513.0,701.0 C518.3,703.3 522.5,704.8 527.0,707.0 C531.5,709.2 537.8,712.8 540.0,714.0" stroke="#f4f5f6" stroke-width="1.4" fill="none" stroke-linecap="round" transform="translate(0,0.6)"/>
<!-- button panel -->
<path d="M456.5,698.8 C459.5,698.7 463.4,700.0 466.0,701.5 C468.6,703.0 470.4,704.1 472.0,708.0 C473.6,711.9 475.0,719.7 475.4,725.0 C475.8,730.3 475.1,735.8 474.5,740.0 C473.9,744.2 472.8,746.7 472.0,750.0 C471.2,753.3 470.8,755.0 469.5,760.0 C468.2,765.0 466.0,773.3 464.5,780.0 C463.0,786.7 461.8,794.2 460.7,800.0 C459.6,805.8 459.5,810.8 457.7,815.0 C455.9,819.2 452.7,823.1 450.0,825.5 C447.3,827.9 444.4,829.4 441.6,829.5 C438.8,829.6 435.1,828.4 433.0,826.0 C430.9,823.6 429.6,819.3 428.8,815.0 C428.0,810.7 427.9,805.8 428.0,800.0 C428.1,794.2 429.1,786.7 429.7,780.0 C430.3,773.3 431.1,765.0 431.8,760.0 C432.5,755.0 433.0,755.0 434.0,750.0 C435.0,745.0 436.4,736.0 437.6,730.0 C438.8,724.0 439.3,718.7 441.0,714.0 C442.7,709.3 445.4,704.5 448.0,702.0 C450.6,699.5 453.5,698.9 456.5,698.8Z" fill="#5d6268"/>
<path d="M456.5,698.8 C459.5,698.7 463.4,700.0 466.0,701.5 C468.6,703.0 470.4,704.1 472.0,708.0 C473.6,711.9 475.0,719.7 475.4,725.0 C475.8,730.3 475.1,735.8 474.5,740.0 C473.9,744.2 472.8,746.7 472.0,750.0 C471.2,753.3 470.8,755.0 469.5,760.0 C468.2,765.0 466.0,773.3 464.5,780.0 C463.0,786.7 461.8,794.2 460.7,800.0 C459.6,805.8 459.5,810.8 457.7,815.0 C455.9,819.2 452.7,823.1 450.0,825.5 C447.3,827.9 444.4,829.4 441.6,829.5 C438.8,829.6 435.1,828.4 433.0,826.0 C430.9,823.6 429.6,819.3 428.8,815.0 C428.0,810.7 427.9,805.8 428.0,800.0 C428.1,794.2 429.1,786.7 429.7,780.0 C430.3,773.3 431.1,765.0 431.8,760.0 C432.5,755.0 433.0,755.0 434.0,750.0 C435.0,745.0 436.4,736.0 437.6,730.0 C438.8,724.0 439.3,718.7 441.0,714.0 C442.7,709.3 445.4,704.5 448.0,702.0 C450.6,699.5 453.5,698.9 456.5,698.8Z" fill="#e9ecef" transform="translate(450.5,764) scale(0.915,0.962) translate(-450.5,-764)"/>
<path d="M456.5,698.8 C459.5,698.7 463.4,700.0 466.0,701.5 C468.6,703.0 470.4,704.1 472.0,708.0 C473.6,711.9 475.0,719.7 475.4,725.0 C475.8,730.3 475.1,735.8 474.5,740.0 C473.9,744.2 472.8,746.7 472.0,750.0 C471.2,753.3 470.8,755.0 469.5,760.0 C468.2,765.0 466.0,773.3 464.5,780.0 C463.0,786.7 461.8,794.2 460.7,800.0 C459.6,805.8 459.5,810.8 457.7,815.0 C455.9,819.2 452.7,823.1 450.0,825.5 C447.3,827.9 444.4,829.4 441.6,829.5 C438.8,829.6 435.1,828.4 433.0,826.0 C430.9,823.6 429.6,819.3 428.8,815.0 C428.0,810.7 427.9,805.8 428.0,800.0 C428.1,794.2 429.1,786.7 429.7,780.0 C430.3,773.3 431.1,765.0 431.8,760.0 C432.5,755.0 433.0,755.0 434.0,750.0 C435.0,745.0 436.4,736.0 437.6,730.0 C438.8,724.0 439.3,718.7 441.0,714.0 C442.7,709.3 445.4,704.5 448.0,702.0 C450.6,699.5 453.5,698.9 456.5,698.8Z" fill="#bfd7e5" transform="translate(450.5,764) scale(0.86,0.94) translate(-450.5,-764)"/>
<g fill="none" stroke="#a9c5d6" stroke-width="3">
 <circle cx="453" cy="726.5" r="9"/>
 <circle cx="447.5" cy="764.5" r="9"/>
 <circle cx="442" cy="805" r="9.5"/>
</g>
<g fill="none" stroke="#d3e5ef" stroke-width="1">
 <circle cx="453.5" cy="727" r="10.8"/>
 <circle cx="448" cy="765" r="10.8"/>
 <circle cx="442.5" cy="805.5" r="11.3"/>
</g>
<g fill="none" stroke="#a3bfd1" stroke-width="1.6">
 <rect x="449.8" y="723.3" width="6.4" height="6.4" rx="1.8" transform="rotate(45 453 726.5)"/>
 <circle cx="442" cy="805" r="5.5"/>
</g>
<g fill="#a3bfd1">
 <circle cx="447.8" cy="762" r="2.6"/><path d="M446.3,762 L449.3,762 L450,769 L445.6,769Z"/>
 <path d="M442,799.5 L445,805 A3,3 0 0 1 439,805Z"/>
</g>
<path d="M440.5,851.5 L445.8,857.4" stroke="#2a2d33" stroke-width="2" stroke-linecap="round"/><path d="M463.5,854.2 A3.2,3 20 1 0 463.3,859" stroke="#2f3238" stroke-width="1.9" fill="none"/>
<g clip-path="url(#cBlue)" filter="url(#blur1)"><line x1="251.2" y1="378.4" x2="500.5" y2="325.5" stroke="#fff" stroke-width="7.5" stroke-linecap="round"/><line x1="251.2" y1="378.4" x2="435.9" y2="500.2" stroke="#fff" stroke-width="7.5" stroke-linecap="round"/><line x1="233.6" y1="562.1" x2="443.6" y2="796.1" stroke="#fff" stroke-width="7.5" stroke-linecap="round"/><line x1="237.0" y1="793.2" x2="442.0" y2="852.0" stroke="#fff" stroke-width="7.5" stroke-linecap="round"/><line x1="674.0" y1="351.2" x2="554.7" y2="339.9" stroke="#fff" stroke-width="7.5" stroke-linecap="round"/><line x1="670.8" y1="583.2" x2="551.0" y2="538.9" stroke="#fff" stroke-width="7.5" stroke-linecap="round"/><line x1="674.0" y1="807.0" x2="520.9" y2="676.0" stroke="#fff" stroke-width="7.5" stroke-linecap="round"/></g>
<line x1="251.2" y1="378.4" x2="499.0" y2="325.8" stroke="#15163a" stroke-width="2.6" stroke-linecap="round"/>
<line x1="251.2" y1="378.4" x2="434.6" y2="499.4" stroke="#15163a" stroke-width="2.6" stroke-linecap="round"/>
<line x1="233.6" y1="562.1" x2="442.6" y2="795.0" stroke="#15163a" stroke-width="2.6" stroke-linecap="round"/>
<line x1="237.0" y1="793.2" x2="440.6" y2="851.6" stroke="#15163a" stroke-width="2.6" stroke-linecap="round"/>
<line x1="674.0" y1="351.2" x2="556.2" y2="340.0" stroke="#15163a" stroke-width="2.6" stroke-linecap="round"/>
<line x1="670.8" y1="583.2" x2="552.4" y2="539.4" stroke="#15163a" stroke-width="2.6" stroke-linecap="round"/>
<line x1="674.0" y1="807.0" x2="522.0" y2="677.0" stroke="#15163a" stroke-width="2.6" stroke-linecap="round"/>

</svg>
</body></html>
